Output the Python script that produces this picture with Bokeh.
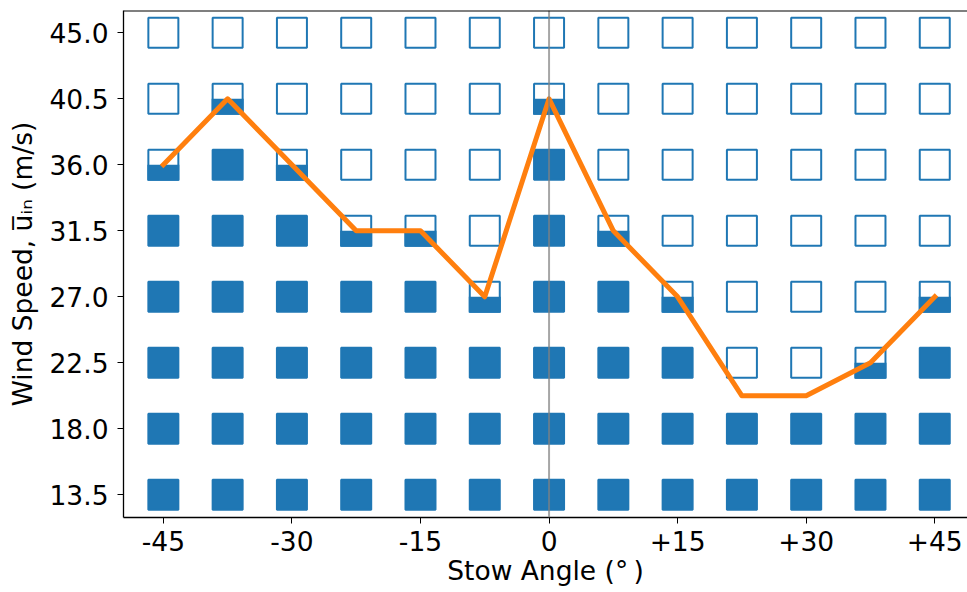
from bokeh.plotting import figure
from bokeh.models import FixedTicker, Span, Range1d, ColumnDataSource
from bokeh.embed import file_html
from bokeh.resources import INLINE

# ---- data ----
angles = [-45, -37.5, -30, -22.5, -15, -7.5, 0, 7.5, 15, 22.5, 30, 37.5, 45]
speeds = [13.5, 18.0, 22.5, 27.0, 31.5, 36.0, 40.5, 45.0]
threshold = [36.0, 40.5, 36.0, 31.5, 31.5, 27.0, 40.5, 31.5, 27.0, 20.25, 20.25, 22.5, 27.0]
x_ticks = [-45, -30, -15, 0, 15, 30, 45]
x_tick_labels = ["-45", "-30", "-15", "0", "+15", "+30", "+45"]
y_tick_labels = ["13.5", "18.0", "22.5", "27.0", "31.5", "36.0", "40.5", "45.0"]

BLUE = "#1f77b4"
ORANGE = "#ff7f0e"
FONT = "DejaVu Sans"
FS = "26.5px"

# classify every cell against the stability threshold of its column
fx, fy, hx, hy, ox, oy = [], [], [], [], [], []
for a, t in zip(angles, threshold):
    for s in speeds:
        if s < t:
            fx.append(a); fy.append(s)
        elif s == t:
            hx.append(a); hy.append(s)
        else:
            ox.append(a); oy.append(s)

X0, X1 = -49.65, 48.82
Y0, Y1 = 11.95, 46.52
W, H = 967, 592
BL, BR, BT, BB = 123, 0, 10, 75
FW, FH = W - BL - BR, H - BT - BB
MS = 32  # marker outer size, px

p = figure(width=W, height=H, x_range=Range1d(X0, X1), y_range=Range1d(Y0, Y1),
           output_backend="svg", toolbar_location=None,
           min_border_left=BL, min_border_right=BR, min_border_top=BT, min_border_bottom=BB)
p.outline_line_color = None
p.xgrid.visible = False
p.ygrid.visible = False
p.background_fill_color = "white"
p.border_fill_color = "white"

# hollow (unstable) and half-filled outlines
p.scatter(ox + hx, oy + hy, marker="square", size=MS - 2, fill_color=None,
          line_color=BLUE, line_width=2)
# bottom halves of the boundary cells
w_data = MS * (X1 - X0) / FW
h_data = (MS / 2) * (Y1 - Y0) / FH
src_half = ColumnDataSource(dict(x=hx, top=hy, bottom=[v - h_data for v in hy]))
p.vbar(x="x", top="top", bottom="bottom", width=w_data, source=src_half,
       fill_color=BLUE, line_color=None)
# filled (stable)
p.scatter(fx, fy, marker="square", size=MS - 2, fill_color=BLUE,
          line_color=BLUE, line_width=2)

# threshold line
p.line(angles, threshold, line_color=ORANGE, line_width=5,
       line_join="round", line_cap="square")

p.add_layout(Span(location=0, dimension="height", line_color="#808080",
                  line_alpha=0.7, line_width=2))
p.add_layout(Span(location=Y1, dimension="width", line_color="black", line_width=2))

for ax in (p.xaxis[0], p.yaxis[0]):
    ax.axis_line_width = 1.3
    ax.major_tick_out = 6
    ax.major_tick_in = 0
    ax.minor_tick_line_color = None
    ax.major_label_text_font = FONT
    ax.major_label_text_font_size = FS
    ax.major_label_text_color = "black"
    ax.axis_label_text_font = FONT
    ax.axis_label_text_font_size = FS
    ax.axis_label_text_font_style = "normal"
    ax.axis_label_text_color = "black"

p.xaxis.ticker = FixedTicker(ticks=x_ticks)
p.xaxis.major_label_overrides = dict(zip(x_ticks, x_tick_labels))
p.xaxis.axis_label = "Stow Angle (\u00b0\u2009)"
p.xaxis.major_label_standoff = 7
p.xaxis.axis_label_standoff = 1

p.yaxis.ticker = FixedTicker(ticks=speeds)
p.yaxis.major_label_overrides = dict(zip(speeds, y_tick_labels))
p.yaxis.axis_label = "Wind Speed, u\u0305\u1d62\u2099 (m/s)"
p.yaxis.major_label_standoff = 9
p.yaxis.axis_label_standoff = 8

open("out.html", "w").write(file_html(p, INLINE))
